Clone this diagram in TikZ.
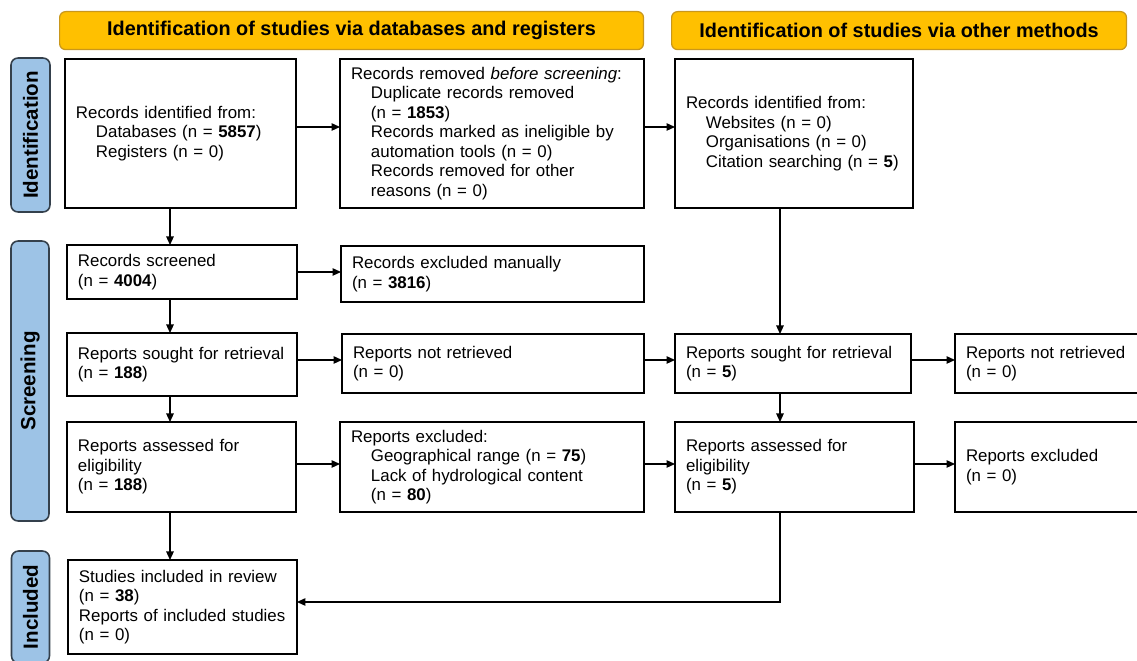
\documentclass[tikz,border=0pt]{standalone}
\usepackage{fontspec}
\setmainfont{Liberation Sans}
\usetikzlibrary{arrows.meta}
\tikzset{>={Triangle[length=0.17cm,width=0.15cm]}}
\definecolor{bannerfill}{HTML}{FFC000}
\definecolor{bannerline}{HTML}{C9971C}
\definecolor{phasefill}{HTML}{9DC3E6}
\definecolor{phaseline}{HTML}{34404C}
\newcommand{\ind}{\hspace*{0.4cm}}
\newcommand{\boxfont}{\fontsize{9.6}{11.1}\selectfont}
\newcommand{\headfont}{\fontsize{11.3}{13}\selectfont\bfseries}
\newcommand{\phasefont}{\fontsize{11.7}{13}\selectfont\bfseries}

\begin{document}
\begin{tikzpicture}[x=0.02cm, y=-0.02cm,
    pbox/.style 2 args={draw, line width=0.7pt, anchor=north west, align=left, text width=#1, minimum height=#2, inner xsep=0.22cm, inner ysep=0pt, outer sep=0pt, font=\boxfont},
    banner/.style={draw=bannerline, fill=bannerfill, line width=0.7pt, rounded corners=0.12cm, anchor=north west, minimum height=0.76cm, inner sep=0pt, font=\headfont},
    phase/.style={draw=phaseline, fill=phasefill, line width=0.9pt, rounded corners=0.14cm, rotate=90, inner sep=0pt, font=\phasefont},
    link/.style={->, line width=0.7pt}]
    \path[use as bounding box, clip] (0,0) rectangle (1137,661);

    \node[banner, minimum width=11.68cm] (headL) at (59,11) {Identification of studies via databases and registers};
    \node[banner, minimum width=9.10cm] (headR) at (671,11) {Identification of studies via other methods};

    \node[phase, minimum width=3.08cm, minimum height=0.78cm] (phId) at (30.5,135) {Identification};
    \node[phase, minimum width=5.60cm, minimum height=0.76cm] (phScr) at (30,381) {Screening};
    \node[phase, minimum width=2.24cm, minimum height=0.76cm] (phInc) at (30.5,607) {Included};

    \node[pbox={4.18cm}{2.98cm}] (recId) at (65,59) {Records identified from:\\\ind Databases (n = \textbf{5857})\\\ind Registers (n = 0)};
    \node[pbox={5.64cm}{2.98cm}] (recRem) at (340,59) {Records removed \emph{before screening}:\\\ind Duplicate records removed\\\ind (n = \textbf{1853})\\\ind Records marked as ineligible by\\\ind automation tools (n = 0)\\\ind Records removed for other\\\ind reasons (n = 0)};
    \node[pbox={4.32cm}{2.98cm}] (othId) at (675,59) {Records identified from:\\\ind Websites (n = 0)\\\ind Organisations (n = 0)\\\ind Citation searching (n = \textbf{5})};

    \node[pbox={4.16cm}{1.08cm}] (recScr) at (67,245) {Records screened\\(n = \textbf{4004})};
    \node[pbox={5.62cm}{1.12cm}] (recExc) at (341,246) {Records excluded manually\\(n = \textbf{3816})};

    \node[pbox={4.16cm}{1.26cm}] (soughtL) at (67,333) {Reports sought for retrieval\\(n = \textbf{188})};
    \node[pbox={5.60cm}{1.18cm}] (notretL) at (342,334) {Reports not retrieved\\(n = 0)};
    \node[pbox={4.28cm}{1.18cm}] (soughtR) at (675,334) {Reports sought for retrieval\\(n = \textbf{5})};
    \node[pbox={4.56cm}{1.18cm}] (notretR) at (955,334) {Reports not retrieved\\(n = 0)};

    \node[pbox={4.14cm}{1.80cm}] (assessL) at (67,422) {Reports assessed for\\eligibility\\(n = \textbf{188})};
    \node[pbox={5.64cm}{1.80cm}] (exclL) at (340,422) {Reports excluded:\\\ind Geographical range (n = \textbf{75})\\\ind Lack of hydrological content\\\ind (n = \textbf{80})};
    \node[pbox={4.34cm}{1.80cm}] (assessR) at (675,422) {Reports assessed for\\eligibility\\(n = \textbf{5})};
    \node[pbox={4.56cm}{1.80cm}] (exclR) at (955,422) {Reports excluded\\(n = 0)};

    \node[pbox={4.14cm}{1.88cm}] (incl) at (68,560) {Studies included in review\\(n = \textbf{38})\\Reports of included studies\\(n = 0)};

    \coordinate (colL) at (170,0);
    \coordinate (colR) at (780,0);
    \coordinate (rowId) at (0,127);
    \coordinate (rowRet) at (0,360);
    \coordinate (rowAss) at (0,464);
    \coordinate (rowInc) at (0,602);

    \draw[link] (recId.east |- rowId) -- (recRem.west |- rowId);
    \draw[link] (recRem.east |- rowId) -- (othId.west |- rowId);
    \draw[link] (recId.south -| colL) -- (recScr.north -| colL);
    \draw[link] (recScr.east) -- (recScr.east -| recExc.west);
    \draw[link] (recScr.south -| colL) -- (soughtL.north -| colL);
    \draw[link] (soughtL.east |- rowRet) -- (notretL.west |- rowRet);
    \draw[link] (notretL.east |- rowRet) -- (soughtR.west |- rowRet);
    \draw[link] (soughtR.east |- rowRet) -- (notretR.west |- rowRet);
    \draw[link] (othId.south -| colR) -- (soughtR.north -| colR);
    \draw[link] (soughtL.south -| colL) -- (assessL.north -| colL);
    \draw[link] (soughtR.south -| colR) -- (assessR.north -| colR);
    \draw[link] (assessL.east |- rowAss) -- (exclL.west |- rowAss);
    \draw[link] (exclL.east |- rowAss) -- (assessR.west |- rowAss);
    \draw[link] (assessR.east |- rowAss) -- (exclR.west |- rowAss);
    \draw[link] (assessL.south -| colL) -- (incl.north -| colL);
    \draw[link] (assessR.south -| colR) |- (incl.east |- rowInc);
\end{tikzpicture}
\end{document}
